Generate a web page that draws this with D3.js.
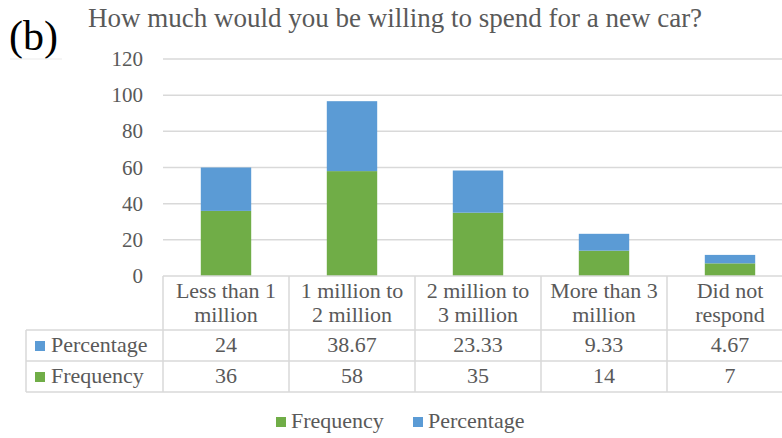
<!DOCTYPE html>
<html>
<head>
<meta charset="utf-8">
<script src="https://cdn.jsdelivr.net/npm/d3@7"></script>
</head>
<body style="margin:0;background:#fff">
<svg id="chart" width="782" height="438" font-family="Liberation Serif" style="display:block;font-family:'Liberation Serif','Times New Roman',serif"></svg>
<script>
// Survey answers: willingness to spend on a new car
const categories = [
  ["Less than 1", "million"],
  ["1 million to", "2 million"],
  ["2 million to", "3 million"],
  ["More than 3", "million"],
  ["Did not", "respond"]
];
const frequency = [36, 58, 35, 14, 7];
const percentage = [24, 38.67, 23.33, 9.33, 4.67];
const yTicks = [0, 20, 40, 60, 80, 100, 120];
const seriesNames = ["Frequency", "Percentage"];

const colors = { Frequency: "#70AD47", Percentage: "#5B9BD5" };
const textColor = "#595959";
const gridColor = "#D9D9D9";

const svg = d3.select("#chart");
const catKeys = categories.map(c => c.join(" "));

const x = d3.scaleBand().domain(catKeys).range([163, 793]).padding(0);
const y = d3.scaleLinear().domain([0, 120]).range([276, 59]);

// Adds a serif text element
function label(parent, tx, ty, size, str, fill = textColor, anchor = "start") {
  return parent.append("text")
    .attr("x", tx).attr("y", ty)
    .attr("font-family", "Times New Roman")
    .attr("font-size", size)
    .attr("fill", fill)
    .attr("text-anchor", anchor)
    .text(str);
}

// Label "(b)" and title
label(svg, 9, 50, 42, "(b)", "#000");
svg.append("line").attr("x1", 10).attr("x2", 62).attr("y1", 59).attr("y2", 59)
  .attr("stroke", "#ebebeb").attr("stroke-width", 1);
label(svg, 88, 27, 27, "How much would you be willing to spend for a new car?");

// Gridlines and y-axis labels
svg.append("g").selectAll("line").data(yTicks.filter(t => t > 0)).join("line")
  .attr("x1", 163).attr("x2", 782)
  .attr("y1", d => y(d)).attr("y2", d => y(d))
  .attr("stroke", gridColor).attr("stroke-width", 1.5);
const gy = svg.append("g");
yTicks.forEach(t => label(gy, 143, y(t) + 7, 21, t, textColor, "end"));

// Stacked bars
const rows = catKeys.map((k, i) => ({ key: k, Frequency: frequency[i], Percentage: percentage[i] }));
const stacked = d3.stack().keys(seriesNames)(rows);
const bw = x.bandwidth() * 0.4;
svg.append("g").selectAll("g").data(stacked).join("g")
  .attr("fill", s => colors[s.key])
  .selectAll("rect").data(s => s).join("rect")
  .attr("x", d => x(d.data.key) + (x.bandwidth() - bw) / 2)
  .attr("width", bw)
  .attr("y", d => y(d[1]))
  .attr("height", d => y(d[0]) - y(d[1]));

// Data table under the axis
const rowHeader = 330, rowPct = 361, rowFreq = 392;
const tbl = svg.append("g").attr("stroke", gridColor).attr("stroke-width", 1.5);
tbl.append("line").attr("x1", 163).attr("x2", 782).attr("y1", y(0)).attr("y2", y(0));
[rowHeader, rowPct, rowFreq].forEach(yy =>
  tbl.append("line").attr("x1", 26).attr("x2", 782).attr("y1", yy).attr("y2", yy));
tbl.append("line").attr("x1", 26).attr("x2", 26).attr("y1", rowHeader).attr("y2", rowFreq);
catKeys.forEach(k =>
  tbl.append("line").attr("x1", x(k)).attr("x2", x(k)).attr("y1", y(0)).attr("y2", rowFreq));

const cells = svg.append("g");
categories.forEach((c, i) => {
  const cx = x(catKeys[i]) + x.bandwidth() / 2;
  label(cells, cx, 298, 22, c[0], textColor, "middle");
  label(cells, cx, 322, 22, c[1], textColor, "middle");
  label(cells, cx, 352, 22, percentage[i], textColor, "middle");
  label(cells, cx, 383, 22, frequency[i], textColor, "middle");
});

// Row labels with color keys
[["Percentage", 352], ["Frequency", 383]].forEach(([name, ty]) => {
  svg.append("rect").attr("x", 35).attr("y", ty - 11).attr("width", 10).attr("height", 10)
    .attr("fill", colors[name]);
  label(svg, 51, ty, 22, name);
});

// Legend
[["Frequency", 276], ["Percentage", 413]].forEach(([name, lx]) => {
  svg.append("rect").attr("x", lx).attr("y", 417).attr("width", 10).attr("height", 10)
    .attr("fill", colors[name]);
  label(svg, lx + 15, 428, 22, name);
});
</script>
</body>
</html>
